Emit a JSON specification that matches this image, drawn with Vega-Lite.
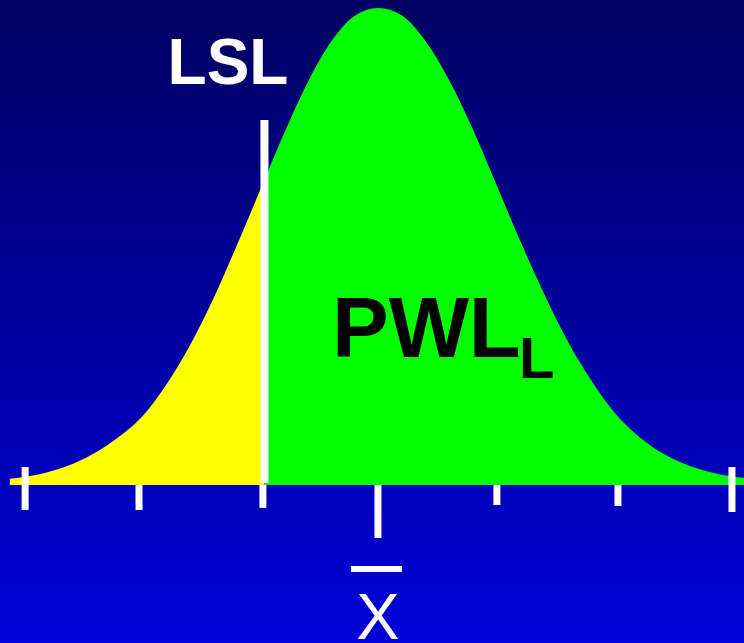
{
  "$schema": "https://vega.github.io/schema/vega-lite/v6.json",
  "width": 744,
  "height": 643,
  "autosize": {"type": "none"},
  "padding": 0,
  "background": "#000080",
  "config": {"view": {"stroke": null}},
  "datasets": {
    "bg": [{"x": -3.203, "x2": 3.102, "y": -0.3312, "y2": 1.0168}],
    "curve": [
      {"x": -3.12, "y": 0.013, "part": "below"},
      {"x": -3.0, "y": 0.017, "part": "below"},
      {"x": -2.8, "y": 0.027, "part": "below"},
      {"x": -2.6, "y": 0.043, "part": "below"},
      {"x": -2.4, "y": 0.067, "part": "below"},
      {"x": -2.2, "y": 0.1, "part": "below"},
      {"x": -2.0, "y": 0.143, "part": "below"},
      {"x": -1.8, "y": 0.208, "part": "below"},
      {"x": -1.6, "y": 0.29, "part": "below"},
      {"x": -1.4, "y": 0.388, "part": "below"},
      {"x": -1.2, "y": 0.5, "part": "below"},
      {"x": -0.962, "y": 0.64, "part": "below"},
      {"x": -0.962, "y": 0.64, "part": "above"},
      {"x": -0.8, "y": 0.735, "part": "above"},
      {"x": -0.6, "y": 0.842, "part": "above"},
      {"x": -0.4, "y": 0.928, "part": "above"},
      {"x": -0.2, "y": 0.983, "part": "above"},
      {"x": 0.0, "y": 1.0, "part": "above"},
      {"x": 0.2, "y": 0.985, "part": "above"},
      {"x": 0.4, "y": 0.932, "part": "above"},
      {"x": 0.6, "y": 0.85, "part": "above"},
      {"x": 0.8, "y": 0.748, "part": "above"},
      {"x": 1.0, "y": 0.632, "part": "above"},
      {"x": 1.2, "y": 0.515, "part": "above"},
      {"x": 1.4, "y": 0.405, "part": "above"},
      {"x": 1.6, "y": 0.305, "part": "above"},
      {"x": 1.8, "y": 0.222, "part": "above"},
      {"x": 2.0, "y": 0.153, "part": "above"},
      {"x": 2.2, "y": 0.104, "part": "above"},
      {"x": 2.4, "y": 0.068, "part": "above"},
      {"x": 2.6, "y": 0.044, "part": "above"},
      {"x": 2.8, "y": 0.028, "part": "above"},
      {"x": 3.0, "y": 0.018, "part": "above"},
      {"x": 3.102, "y": 0.015, "part": "above"}
    ],
    "ticks": [
      {"x": -2.99, "y": 0.0377, "y2": -0.0524},
      {"x": -2.025, "y": 0.0, "y2": -0.0524},
      {"x": -0.975, "y": 0.0, "y2": -0.048},
      {"x": 0.0, "y": 0.0, "y2": -0.111},
      {"x": 1.008, "y": 0.0, "y2": -0.042},
      {"x": 2.034, "y": 0.0, "y2": -0.044},
      {"x": 3.0, "y": 0.0377, "y2": -0.0566}
    ],
    "lsl": [{"x": -0.962, "y": 0.004, "y2": 0.765}],
    "bar": [{"x": -0.229, "x2": 0.203, "y": -0.176}],
    "lslLabel": [{"x": -1.271, "y": 0.8407, "text": "LSL"}],
    "pwl": [{"x": -0.39, "y": 0.268, "text": "PWL"}],
    "sub": [{"x": 1.195, "y": 0.224, "text": "L"}],
    "xbar": [{"x": 0.0, "y": -0.3229, "text": "X"}]
  },
  "layer": [
    {
      "data": {"name": "bg"},
      "mark": {
        "type": "rect",
        "fill": {
          "gradient": "linear",
          "x1": 0, "y1": 0, "x2": 0, "y2": 1,
          "stops": [
            {"offset": 0, "color": "#000060"},
            {"offset": 0.5, "color": "#00009e"},
            {"offset": 1, "color": "#0000d8"}
          ]
        }
      },
      "encoding": {
        "x": {"field": "x", "type": "quantitative", "scale": {"domain": [-3.203, 3.102], "nice": false, "zero": false}, "axis": null},
        "x2": {"field": "x2"},
        "y": {"field": "y", "type": "quantitative", "scale": {"domain": [-0.3312, 1.0168], "nice": false, "zero": false}, "axis": null},
        "y2": {"field": "y2"}
      }
    },
    {
      "data": {"name": "curve"},
      "mark": {"type": "area", "interpolate": "monotone", "opacity": 1},
      "encoding": {
        "x": {"field": "x", "type": "quantitative"},
        "y": {"field": "y", "type": "quantitative", "stack": null},
        "color": {"field": "part", "type": "nominal", "scale": {"domain": ["below", "above"], "range": ["#ffff00", "#00ff00"]}, "legend": null}
      }
    },
    {
      "data": {"name": "ticks"},
      "mark": {"type": "rule", "color": "white", "strokeWidth": 7},
      "encoding": {
        "x": {"field": "x", "type": "quantitative"},
        "y": {"field": "y", "type": "quantitative"},
        "y2": {"field": "y2"}
      }
    },
    {
      "data": {"name": "lsl"},
      "mark": {"type": "rule", "color": "white", "strokeWidth": 8},
      "encoding": {
        "x": {"field": "x", "type": "quantitative"},
        "y": {"field": "y", "type": "quantitative"},
        "y2": {"field": "y2"}
      }
    },
    {
      "data": {"name": "bar"},
      "mark": {"type": "rule", "color": "white", "strokeWidth": 6},
      "encoding": {
        "x": {"field": "x", "type": "quantitative"},
        "x2": {"field": "x2"},
        "y": {"field": "y", "type": "quantitative"}
      }
    },
    {
      "data": {"name": "lslLabel"},
      "mark": {"type": "text", "font": "Liberation Sans", "fontSize": 64, "fontWeight": "bold", "color": "white", "align": "center", "baseline": "alphabetic"},
      "encoding": {
        "x": {"field": "x", "type": "quantitative"},
        "y": {"field": "y", "type": "quantitative"},
        "text": {"field": "text"}
      }
    },
    {
      "data": {"name": "pwl"},
      "mark": {"type": "text", "font": "Liberation Sans", "fontSize": 85, "fontWeight": "bold", "color": "black", "align": "left", "baseline": "alphabetic"},
      "encoding": {
        "x": {"field": "x", "type": "quantitative"},
        "y": {"field": "y", "type": "quantitative"},
        "text": {"field": "text"}
      }
    },
    {
      "data": {"name": "sub"},
      "mark": {"type": "text", "font": "Liberation Sans", "fontSize": 58, "fontWeight": "bold", "color": "black", "align": "left", "baseline": "alphabetic"},
      "encoding": {
        "x": {"field": "x", "type": "quantitative"},
        "y": {"field": "y", "type": "quantitative"},
        "text": {"field": "text"}
      }
    },
    {
      "data": {"name": "xbar"},
      "mark": {"type": "text", "font": "Liberation Sans", "fontSize": 65, "color": "white", "align": "center", "baseline": "alphabetic"},
      "encoding": {
        "x": {"field": "x", "type": "quantitative"},
        "y": {"field": "y", "type": "quantitative"},
        "text": {"field": "text"}
      }
    }
  ]
}
